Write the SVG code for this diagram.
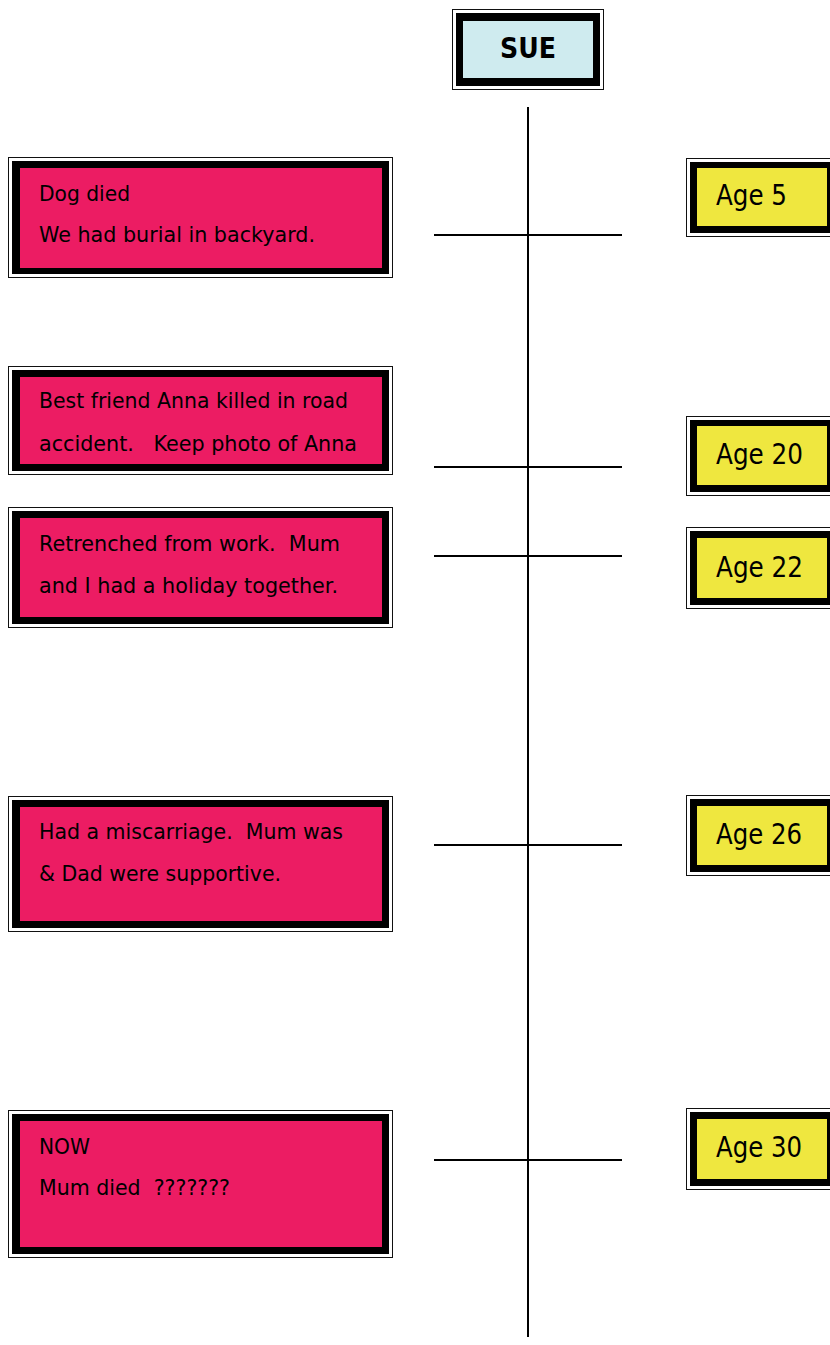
<svg xmlns="http://www.w3.org/2000/svg" width="830" height="1345" viewBox="0 0 830 1345">
<style>
.frame{fill:#ffffff;stroke:#111;stroke-width:1}
.band{fill:#000}
.pink{fill:#EC1C63}
.yellow{fill:#EFE73F}
.blue{fill:#CFEBEF}
.t{font-family:"DejaVu Sans","Liberation Sans",sans-serif;font-size:22px;fill:#000}
.age{font-family:"DejaVu Sans","Liberation Sans",sans-serif;font-size:29px;fill:#000}
.title{font-family:"DejaVu Sans","Liberation Sans",sans-serif;font-size:28px;font-weight:bold;fill:#000}
.ln{stroke:#000;stroke-width:2;fill:none}
</style>
<rect width="830" height="1345" fill="#fff"/>
<g id="connectors">
<line class="ln" x1="528" y1="107" x2="528" y2="1337"/>
<line class="ln" x1="434" y1="235" x2="622" y2="235"/>
<line class="ln" x1="434" y1="467" x2="622" y2="467"/>
<line class="ln" x1="434" y1="556" x2="622" y2="556"/>
<line class="ln" x1="434" y1="845" x2="622" y2="845"/>
<line class="ln" x1="434" y1="1160" x2="622" y2="1160"/>
</g>
<g id="sue">
<rect class="frame" x="452.5" y="9.5" width="151" height="80"/>
<rect class="band" x="456" y="13" width="144" height="73"/>
<rect class="blue" x="463" y="21" width="130" height="57"/>
<text class="title" x="528" y="57.5" text-anchor="middle" textLength="56" lengthAdjust="spacingAndGlyphs">SUE</text>
</g>
<g id="event1">
<rect class="frame" x="8.5" y="157.5" width="384" height="120"/>
<rect class="band" x="12" y="161" width="377" height="113"/>
<rect class="pink" x="20" y="168" width="362" height="100"/>
<text class="t" x="39" y="200.5" textLength="91" lengthAdjust="spacingAndGlyphs">Dog died</text>
<text class="t" x="39" y="242" textLength="276" lengthAdjust="spacingAndGlyphs">We had burial in backyard.</text>
</g>
<g id="event2">
<rect class="frame" x="8.5" y="366.5" width="384" height="108"/>
<rect class="band" x="12" y="370" width="377" height="101"/>
<rect class="pink" x="20" y="377" width="362" height="87"/>
<text class="t" x="39" y="408" textLength="309" lengthAdjust="spacingAndGlyphs">Best friend Anna killed in road</text>
<text class="t" x="39" y="451" textLength="318" lengthAdjust="spacingAndGlyphs" xml:space="preserve">accident.   Keep photo of Anna</text>
</g>
<g id="event3">
<rect class="frame" x="8.5" y="507.5" width="384" height="120"/>
<rect class="band" x="12" y="511" width="377" height="113"/>
<rect class="pink" x="20" y="518" width="362" height="99"/>
<text class="t" x="39" y="551" textLength="301" lengthAdjust="spacingAndGlyphs" xml:space="preserve">Retrenched from work.  Mum</text>
<text class="t" x="39" y="592.5" textLength="299" lengthAdjust="spacingAndGlyphs">and I had a holiday together.</text>
</g>
<g id="event4">
<rect class="frame" x="8.5" y="796.5" width="384" height="135"/>
<rect class="band" x="12" y="800" width="377" height="128"/>
<rect class="pink" x="20" y="807" width="362" height="114"/>
<text class="t" x="39" y="839" textLength="304" lengthAdjust="spacingAndGlyphs" xml:space="preserve">Had a miscarriage.  Mum was</text>
<text class="t" x="39" y="881" textLength="242" lengthAdjust="spacingAndGlyphs">&amp; Dad were supportive.</text>
</g>
<g id="event5">
<rect class="frame" x="8.5" y="1110.5" width="384" height="147"/>
<rect class="band" x="12" y="1114" width="377" height="140"/>
<rect class="pink" x="20" y="1121" width="362" height="126"/>
<text class="t" x="39" y="1153.5" textLength="51" lengthAdjust="spacingAndGlyphs">NOW</text>
<text class="t" x="39" y="1195" textLength="191" lengthAdjust="spacingAndGlyphs" xml:space="preserve">Mum died  ???????</text>
</g>
<g id="age5">
<rect class="frame" x="686.5" y="158.5" width="152" height="78"/>
<rect class="band" x="690" y="162" width="145" height="71"/>
<rect class="yellow" x="697" y="168" width="130" height="58"/>
<text class="age" x="716" y="205" textLength="71" lengthAdjust="spacingAndGlyphs">Age 5</text>
</g>
<g id="age20">
<rect class="frame" x="686.5" y="416.5" width="152" height="79"/>
<rect class="band" x="690" y="420" width="145" height="72"/>
<rect class="yellow" x="697" y="426" width="130" height="59"/>
<text class="age" x="716" y="464" textLength="87" lengthAdjust="spacingAndGlyphs">Age 20</text>
</g>
<g id="age22">
<rect class="frame" x="686.5" y="527.5" width="152" height="81"/>
<rect class="band" x="690" y="531" width="145" height="74"/>
<rect class="yellow" x="697" y="538" width="130" height="60"/>
<text class="age" x="716" y="577" textLength="87" lengthAdjust="spacingAndGlyphs">Age 22</text>
</g>
<g id="age26">
<rect class="frame" x="686.5" y="795.5" width="152" height="80"/>
<rect class="band" x="690" y="799" width="145" height="73"/>
<rect class="yellow" x="697" y="806" width="130" height="59"/>
<text class="age" x="716" y="844" textLength="86" lengthAdjust="spacingAndGlyphs">Age 26</text>
</g>
<g id="age30">
<rect class="frame" x="686.5" y="1108.5" width="152" height="81"/>
<rect class="band" x="690" y="1112" width="145" height="74"/>
<rect class="yellow" x="697" y="1119" width="130" height="60"/>
<text class="age" x="716" y="1157" textLength="86" lengthAdjust="spacingAndGlyphs">Age 30</text>
</g>
</svg>
